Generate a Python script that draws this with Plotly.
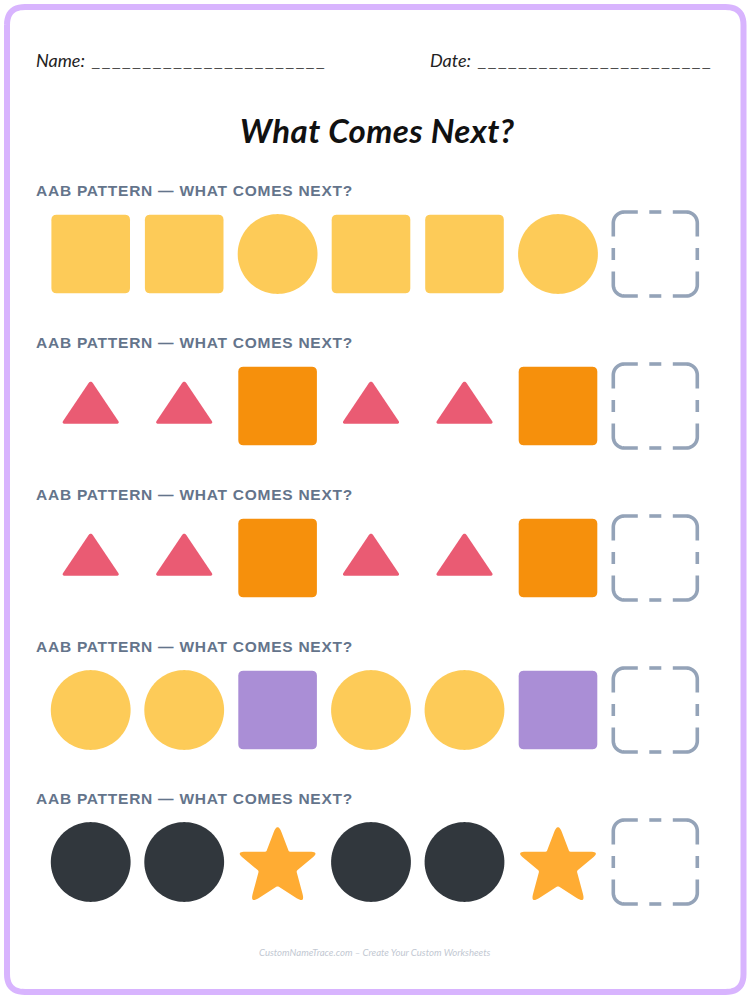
import numpy as np
import plotly.graph_objects as go

NAME_LABEL = "Name:"
DATE_LABEL = "Date:"
BLANK = "_" * 23
TITLE = "What Comes Next?"
ROW_LABEL = "AAB PATTERN — WHAT COMES NEXT?"
FOOTER = "CustomNameTrace.com – Create Your Custom Worksheets"

YELLOW = "#FDCB58"
ORANGE = "#F6900C"
PINK = "#EA5B73"
PURPLE = "#AA8ED6"
DARK = "#31373D"
GOLD = "#FFAC33"
SLATE = "#64748B"
GUIDE = "#94A3B8"
BORDER = "#D8B4FE"

row_1 = [("square", YELLOW), ("square", YELLOW), ("circle", YELLOW)]
row_2 = [("triangle", PINK), ("triangle", PINK), ("square", ORANGE)]
row_3 = [("triangle", PINK), ("triangle", PINK), ("square", ORANGE)]
row_4 = [("circle", YELLOW), ("circle", YELLOW), ("square", PURPLE)]
row_5 = [("circle", DARK), ("circle", DARK), ("star", GOLD)]
rows = [row_1, row_2, row_3, row_4, row_5]

row_centers = [254, 406, 558, 710, 862]
label_centers = [190.5, 342.5, 494.5, 646.5, 798.5]
column_centers = [90.7, 184.2, 277.6, 371, 464.5, 558]
answer_center = 655.3


def rounded(poly, radii):
    pts = []
    n = len(poly)
    for i in range(n):
        p = np.array(poly[i], float)
        a = np.array(poly[i - 1], float)
        b = np.array(poly[(i + 1) % n], float)
        r = radii[i] if isinstance(radii, (list, tuple)) else radii
        u = (a - p) / np.linalg.norm(a - p)
        v = (b - p) / np.linalg.norm(b - p)
        s, e = p + u * r, p + v * r
        for t in np.linspace(0, 1, 12):
            pts.append((1 - t) ** 2 * s + 2 * t * (1 - t) * p + t ** 2 * e)
    return np.array(pts)


def outline(kind, cx, cy):
    if kind == "circle":
        t = np.linspace(0, 2 * np.pi, 121)
        pts = np.c_[39.9 * np.cos(t), 39.9 * np.sin(t)]
    elif kind == "square":
        h = 39.3
        pts = rounded([(-h, -h), (h, -h), (h, h), (-h, h)], 5.5)
    elif kind == "triangle":
        pts = rounded([(0, -26), (29.5, 17.8), (-29.5, 17.8)], 4)
    else:
        star = [(0, -40), (11.3, -10.3), (42, -10.3), (18.8, 9), (27.5, 41.5),
                (0, 24), (-27.5, 41.5), (-18.8, 9), (-42, -10.3), (-11.3, -10.3)]
        radii = [11, 1.5, 9.5, 1.5, 10, 1.5, 10, 1.5, 9.5, 1.5]
        pts = rounded(star, radii)
    pts = np.vstack([pts, pts[:1]])
    return pts[:, 0] + cx, pts[:, 1] + cy


def dashes(cx, cy):
    half, rad, gap_end, mid = 42, 11, 17.5, 6
    xs, ys = [], []
    for sx, sy in [(-1, -1), (1, -1), (1, 1), (-1, 1)]:
        t = np.linspace(0, np.pi / 2, 14)
        arc_x = sx * (half - rad + rad * np.sin(t))
        arc_y = sy * (half - rad + rad * np.cos(t))
        bx = np.r_[sx * gap_end, arc_x, sx * half]
        by = np.r_[sy * half, arc_y, sy * gap_end]
        xs += list(cx + bx) + [None]
        ys += list(cy + by) + [None]
    for a, b in [(0, -half), (0, half), (-half, 0), (half, 0)]:
        if a == 0:
            xs += [cx - mid, cx + mid, None]
            ys += [cy + b, cy + b, None]
        else:
            xs += [cx + a, cx + a, None]
            ys += [cy - mid, cy + mid, None]
    return xs, ys


def page_border():
    x0, y0, x1, y1 = 7, 7, 743.5, 992
    pts = rounded([(x0, y0), (x1, y0), (x1, y1), (x0, y1)], 18)
    pts = np.vstack([pts, pts[:1]])
    return pts[:, 0], pts[:, 1]


fig = go.Figure()
bx, by = page_border()
fig.add_trace(go.Scatter(x=bx, y=by, mode="lines", line=dict(color=BORDER, width=6, simplify=False),
                         hoverinfo="skip", showlegend=False))

for row, cy in zip(rows, row_centers):
    for (kind, color), cx in zip(row + row, column_centers):
        x, y = outline(kind, cx, cy)
        fig.add_trace(go.Scatter(x=x, y=y, mode="lines", fill="toself", fillcolor=color,
                                 line=dict(width=0, color=color, simplify=False),
                                 hoverinfo="skip", showlegend=False))
    x, y = dashes(answer_center, cy)
    fig.add_trace(go.Scatter(x=x, y=y, mode="lines", line=dict(color=GUIDE, width=3.6, simplify=False),
                             connectgaps=False, hoverinfo="skip", showlegend=False))


def note(text, x, y, font, size, color, anchor="left", bold=False, italic=False):
    label = f"<b>{text}</b>" if bold else text
    label = f"<i>{label}</i>" if italic else label
    fig.add_annotation(x=x, y=y, text=label, showarrow=False, xanchor=anchor, yanchor="middle",
                       xref="x", yref="y", font=dict(family=font, size=size, color=color),
                       borderpad=0, borderwidth=0)


note(NAME_LABEL, 36, 60, "Lato", 18, "#222222", italic=True)
note(BLANK, 91, 61.5, "Liberation Sans", 13.5, "#333333")
note(DATE_LABEL, 430, 60, "Lato", 18, "#222222", italic=True)
note(BLANK, 477, 61.5, "Liberation Sans", 13.5, "#333333")
note(TITLE, 240, 130, "Lato", 33, "#111111", bold=True, italic=True)
for y in label_centers:
    note(ROW_LABEL, 36, y, "Liberation Sans", 15.5, SLATE, bold=True)
note(FOOTER, 259, 952, "Lato", 9.6, "#C2C8D2", italic=True)

fig.update_layout(
    width=750, height=1000, margin=dict(l=0, r=0, t=0, b=0),
    paper_bgcolor="white", plot_bgcolor="white", showlegend=False,
    xaxis=dict(range=[0, 750], visible=False, fixedrange=True),
    yaxis=dict(range=[1000, 0], visible=False, fixedrange=True),
)

spacing = """
document.body.style.margin = '0';
document.querySelectorAll('.annotation-text').forEach(function (t) {
  var s = t.textContent, gap = 0;
  if (s.indexOf('____') === 0) gap = 2.7;
  if (s.indexOf('AAB') === 0) gap = 0.75;
  if (s.indexOf('What') === 0) gap = 0.4;
  if (!gap) return;
  var before = t.getBBox().x;
  t.style.letterSpacing = gap + 'px';
  var after = t.getBBox().x;
  t.setAttribute('x', parseFloat(t.getAttribute('x')) + before - after);
});
"""
fig.write_html("out.html", post_script=spacing, config={"displayModeBar": False})
